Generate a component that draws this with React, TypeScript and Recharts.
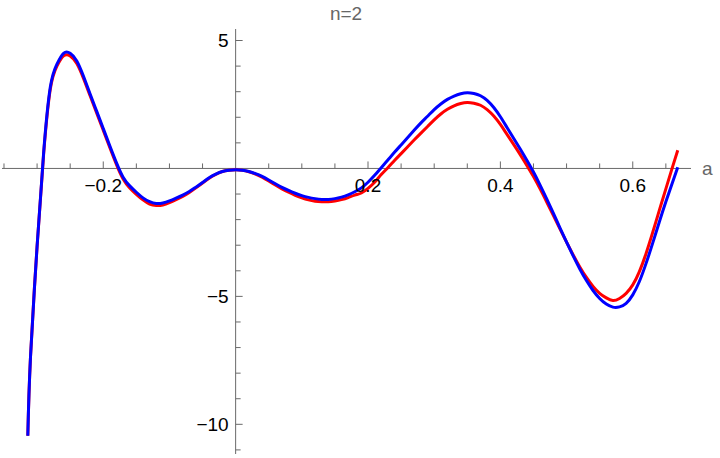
import React from "react"
import { LineChart, Line, XAxis, YAxis, ReferenceLine } from "recharts"

document.body.style.margin = "0"

// sampled a values
const aValues = [
  -0.314, -0.31, -0.3, -0.29, -0.28, -0.27, -0.26, -0.25, -0.24, -0.23,
  -0.22, -0.21, -0.2, -0.19, -0.18, -0.17, -0.16, -0.15, -0.14, -0.13,
  -0.12, -0.11, -0.1, -0.09, -0.08, -0.07, -0.06, -0.05, -0.04, -0.03,
  -0.02, -0.01, 0, 0.01, 0.02, 0.03, 0.04, 0.05, 0.06, 0.07,
  0.08, 0.09, 0.1, 0.11, 0.12, 0.13, 0.14, 0.15, 0.16, 0.17,
  0.18, 0.19, 0.2, 0.21, 0.22, 0.23, 0.24, 0.25, 0.26, 0.27,
  0.28, 0.29, 0.3, 0.31, 0.32, 0.33, 0.34, 0.35, 0.36, 0.37,
  0.38, 0.39, 0.4, 0.41, 0.42, 0.43, 0.44, 0.45, 0.46, 0.47,
  0.48, 0.49, 0.5, 0.51, 0.52, 0.53, 0.54, 0.55, 0.56, 0.57,
  0.58, 0.59, 0.6, 0.61, 0.62, 0.63, 0.64, 0.65, 0.66, 0.668,
]

const redValues = [
  -10.45, -7.4, -3.05, 0.6, 3.1, 4.0, 4.4, 4.4, 4.1, 3.53,
  2.85, 2.17, 1.49, 0.81, 0.15, -0.41, -0.76, -1.01, -1.23, -1.39,
  -1.45, -1.43, -1.34, -1.22, -1.09, -0.94, -0.76, -0.57, -0.38, -0.23,
  -0.12, -0.07, -0.05, -0.07, -0.13, -0.22, -0.34, -0.49, -0.65, -0.8,
  -0.93, -1.05, -1.15, -1.23, -1.28, -1.3, -1.3, -1.27, -1.22, -1.14,
  -1.04, -0.96, -0.78, -0.54, -0.24, 0.03, 0.31, 0.58, 0.85, 1.12,
  1.38, 1.64, 1.9, 2.13, 2.31, 2.45, 2.54, 2.58, 2.55, 2.47,
  2.3, 2.05, 1.72, 1.33, 0.94, 0.54, 0.12, -0.32, -0.8, -1.31,
  -1.83, -2.36, -2.88, -3.38, -3.85, -4.26, -4.61, -4.88, -5.06, -5.16,
  -5.08, -4.88, -4.55, -4.03, -3.33, -2.51, -1.65, -0.8, 0.05, 0.71,
]

const blueValues = [
  -10.45, -7.4, -3.05, 0.65, 3.18, 4.08, 4.5, 4.5, 4.2, 3.61,
  2.92, 2.24, 1.56, 0.88, 0.22, -0.34, -0.68, -0.93, -1.15, -1.3,
  -1.37, -1.35, -1.27, -1.16, -1.04, -0.9, -0.73, -0.55, -0.36, -0.22,
  -0.12, -0.07, -0.05, -0.07, -0.12, -0.2, -0.31, -0.45, -0.6, -0.74,
  -0.86, -0.97, -1.06, -1.13, -1.18, -1.21, -1.21, -1.18, -1.12, -1.03,
  -0.91, -0.76, -0.54, -0.27, 0.03, 0.33, 0.63, 0.92, 1.21, 1.5,
  1.78, 2.04, 2.3, 2.52, 2.7, 2.83, 2.92, 2.96, 2.93, 2.84,
  2.66, 2.38, 2.02, 1.6, 1.18, 0.76, 0.32, -0.14, -0.65, -1.19,
  -1.75, -2.32, -2.88, -3.42, -3.93, -4.38, -4.77, -5.08, -5.3, -5.42,
  -5.41, -5.27, -4.94, -4.42, -3.72, -2.93, -2.1, -1.3, -0.55, 0.05,
]

const xTicks = [
  -0.35, -0.3, -0.25, -0.2, -0.15, -0.1, -0.05, 0.05, 0.1, 0.15,
  0.2, 0.25, 0.3, 0.35, 0.4, 0.45, 0.5, 0.55, 0.6, 0.65,
]
const xLabelTicks = [-0.2, 0.2, 0.4, 0.6]
const yTicks = [-11, -10, -9, -8, -7, -6, -5, -4, -3, -2, -1, 1, 2, 3, 4, 5]
const yLabelTicks = [-10, -5, 5]

const data = aValues.map((a, i) => ({ a, red: redValues[i], blue: blueValues[i] }))

const W = 720
const H = 458
const margin = { top: 29, right: 29, bottom: 3, left: 1 }
const xDomain = [-0.353, 0.688]
const yDomain = [-11.16, 5.45]

// pixel position of the crossing axes (axes take 1px each)
const plotW = W - margin.left - 1 - margin.right
const plotH = H - margin.top - margin.bottom - 1
const X0 = margin.left + 1 + ((0 - xDomain[0]) / (xDomain[1] - xDomain[0])) * plotW
const Y0 = margin.top + ((yDomain[1] - 0) / (yDomain[1] - yDomain[0])) * plotH

const axisColor = "#6a6a6a"
const font = "'Liberation Sans', Arial, sans-serif"

const fmt = (v: number) => (v < 0 ? "\u2212" + String(-v) : String(v))

function XTick(props: any) {
  const { x, payload } = props
  const major = xLabelTicks.includes(payload.value)
  return (
    <g>
      <line x1={x} x2={x} y1={Y0} y2={Y0 - (major ? 7 : 5)} stroke={axisColor} strokeWidth={1} />
      {major && (
        <text x={x} y={Y0 + 24} textAnchor="middle" fontSize={19} fontFamily={font} fill="#000">
          {fmt(payload.value)}
        </text>
      )}
    </g>
  )
}

function YTick(props: any) {
  const { y, payload } = props
  const major = yLabelTicks.includes(payload.value)
  return (
    <g>
      <line x1={X0} x2={X0 + (major ? 7 : 5)} y1={y} y2={y} stroke={axisColor} strokeWidth={1} />
      {major && (
        <text x={X0 - 7} y={y + 6.8} textAnchor="end" fontSize={19} fontFamily={font} fill="#000">
          {fmt(payload.value)}
        </text>
      )}
    </g>
  )
}

export default function App() {
  return (
    <div style={{ position: "relative", width: W, height: H, background: "#fff" }}>
      <div
        style={{
          position: "absolute",
          left: 0,
          width: 692,
          top: 3,
          textAlign: "center",
          fontFamily: font,
          fontSize: 19,
          color: "#666",
        }}
      >
        n=2
      </div>
      <LineChart width={W} height={H} data={data} margin={margin}>
        <XAxis
          dataKey="a"
          type="number"
          domain={xDomain}
          ticks={xTicks}
          interval={0}
          height={1}
          axisLine={false}
          tickLine={false}
          tick={<XTick />}
          allowDataOverflow
        />
        <YAxis
          type="number"
          domain={yDomain}
          ticks={yTicks}
          interval={0}
          width={1}
          axisLine={false}
          tickLine={false}
          tick={<YTick />}
          allowDataOverflow
        />
        <ReferenceLine
          y={0}
          stroke={axisColor}
          strokeWidth={1}
          label={{ value: "a", position: "right", fill: "#666", fontSize: 19, fontFamily: font, dx: 6 }}
        />
        <ReferenceLine x={0} stroke={axisColor} strokeWidth={1} />
        <Line dataKey="red" type="natural" stroke="#ff0000" strokeWidth={3} dot={false} isAnimationActive={false} />
        <Line dataKey="blue" type="natural" stroke="#0000ff" strokeWidth={3} dot={false} isAnimationActive={false} />
      </LineChart>
    </div>
  )
}
